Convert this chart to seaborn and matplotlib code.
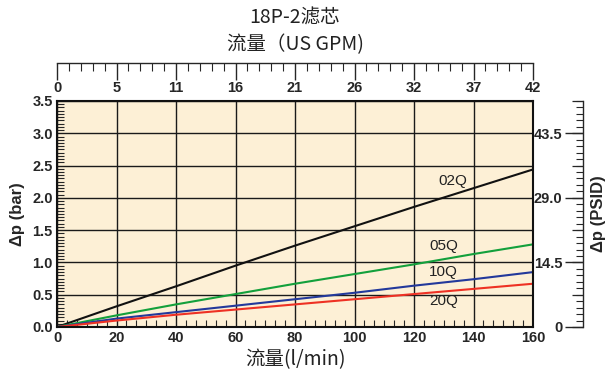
import matplotlib
matplotlib.use("Agg")
import matplotlib.pyplot as plt
import seaborn as sns
import pandas as pd
from matplotlib.ticker import MultipleLocator, FixedLocator, FixedFormatter, AutoMinorLocator, NullFormatter

# data
flow_lpm = [0, 20, 40, 60, 80, 100, 120, 140, 160]
dp_02q = [0, 0.32, 0.63, 0.95, 1.26, 1.56, 1.86, 2.15, 2.44]
dp_05q = [0, 0.18, 0.35, 0.51, 0.67, 0.82, 0.97, 1.13, 1.28]
dp_10q = [0, 0.13, 0.23, 0.33, 0.43, 0.53, 0.64, 0.74, 0.85]
dp_20q = [0, 0.10, 0.19, 0.27, 0.35, 0.43, 0.51, 0.59, 0.67]
series_names = ["02Q", "05Q", "10Q", "20Q"]

gpm_ticks = [0, 20, 40, 60, 80, 100, 120, 140, 160]
gpm_labels = ["0", "5", "11", "16", "21", "26", "32", "37", "42"]
psi_ticks = [0, 14.5, 29.0, 43.5]
psi_labels = ["0", "14.5", "29.0", "43.5"]

colors = {"02Q": "#111111", "05Q": "#13a03c", "10Q": "#23399b", "20Q": "#ee3124"}
label_xy = {"02Q": (133, 2.26), "05Q": (130, 1.25), "10Q": (130, 0.85), "20Q": (130, 0.40)}

df = pd.DataFrame({
    "flow": flow_lpm * 4,
    "dp": dp_02q + dp_05q + dp_10q + dp_20q,
    "series": [s for s in series_names for _ in flow_lpm],
})

sns.set_style("white")
plt.rcParams["font.family"] = ["Liberation Sans", "DejaVu Sans"]
cjk = ["Noto Sans CJK SC", "DejaVu Sans"]
TICK_FS = 10.5

W, H = 608, 372
fig = plt.figure(figsize=(6.08, 3.72), dpi=100)

# main plot
ax = fig.add_axes([57 / W, 45 / H, 476 / W, 226 / H])
ax.set_facecolor("#fdf0d6")
sns.lineplot(data=df, x="flow", y="dp", hue="series", palette=colors,
             linewidth=1.5, legend=False, ax=ax)
ax.set_xlim(0, 160)
ax.set_ylim(0, 3.5)
ax.xaxis.set_major_locator(MultipleLocator(20))
ax.xaxis.set_minor_locator(AutoMinorLocator(6))
ax.yaxis.set_major_locator(MultipleLocator(0.5))
ax.yaxis.set_minor_locator(MultipleLocator(0.05))
ax.set_axisbelow(True)
ax.grid(True, which="major", color="#1a1a1a", linewidth=1.0)
ax.tick_params(which="major", length=0, labelsize=TICK_FS, pad=3)
ax.tick_params(which="minor", direction="in", length=5, width=0.8,
               bottom=True, left=True, top=False, right=False)
for sp in ax.spines.values():
    sp.set_color("#111111")
    sp.set_linewidth(1.5)
plt.setp(ax.get_xticklabels() + ax.get_yticklabels(), fontweight="bold")
ax.set_xlabel("流量(l/min)", family=cjk, fontsize=14, labelpad=3, color="#222222")
ax.set_ylabel("Δp (bar)", fontsize=12, fontweight="bold", labelpad=5)

for name in series_names:
    x, y = label_xy[name]
    ax.text(x, y, name, ha="center", va="center", fontsize=11, color="#222222")

# top axis in US GPM
axt = fig.add_axes([57 / W, (H - 63) / H, 476 / W, 0.0001])
axt.set_xlim(0, 160)
axt.set_yticks([])
axt.patch.set_visible(False)
for k in ["top", "left", "right"]:
    axt.spines[k].set_visible(False)
axt.spines["bottom"].set_linewidth(1.0)
axt.xaxis.set_major_locator(FixedLocator(gpm_ticks))
axt.xaxis.set_major_formatter(FixedFormatter(gpm_labels))
axt.xaxis.set_minor_locator(MultipleLocator(4))
axt.tick_params(which="both", bottom=True, top=False, direction="out")
axt.tick_params(which="major", length=12, width=1.0, labelsize=TICK_FS, pad=1)
axt.tick_params(which="minor", length=6, width=0.8)
plt.setp(axt.get_xticklabels(), fontweight="bold")

# right axis in PSID
axr = fig.add_axes([583 / W, 45 / H, 0.0001, 226 / H])
axr.set_ylim(0, 50.75)
axr.set_xticks([])
axr.patch.set_visible(False)
for k in ["top", "bottom", "right"]:
    axr.spines[k].set_visible(False)
axr.spines["left"].set_linewidth(1.0)
axr.yaxis.set_major_locator(FixedLocator(psi_ticks))
axr.yaxis.set_major_formatter(FixedFormatter(psi_labels))
axr.yaxis.set_minor_locator(MultipleLocator(1.45))
axr.tick_params(which="both", left=True, right=False, direction="out")
axr.tick_params(which="major", length=13, width=1.0, labelsize=TICK_FS, pad=2)
axr.tick_params(which="minor", length=5, width=0.8)
plt.setp(axr.get_yticklabels(), fontweight="bold")

axm = fig.add_axes([583 / W, 45 / H, 0.0001, 226 / H])
axm.set_ylim(0, 50.75)
axm.set_xticks([])
axm.patch.set_visible(False)
for sp in axm.spines.values():
    sp.set_visible(False)
axm.yaxis.set_major_locator(MultipleLocator(7.25))
axm.yaxis.set_major_formatter(NullFormatter())
axm.tick_params(which="major", left=True, direction="out", length=8, width=0.9)

fig.text(598 / W, 1 - 214 / H, "Δp (PSID)", rotation=90, ha="center", va="center",
         fontsize=12, fontweight="bold")

# titles
fig.text(295 / W, 1 - 18 / H, "18P-2滤芯", ha="center", va="center", family=cjk,
         fontsize=14, color="#222222")
fig.text(295 / W, 1 - 45 / H, "流量（US GPM)", ha="center", va="center", family=cjk,
         fontsize=14, color="#222222")

fig.savefig("out.png", dpi=100)
